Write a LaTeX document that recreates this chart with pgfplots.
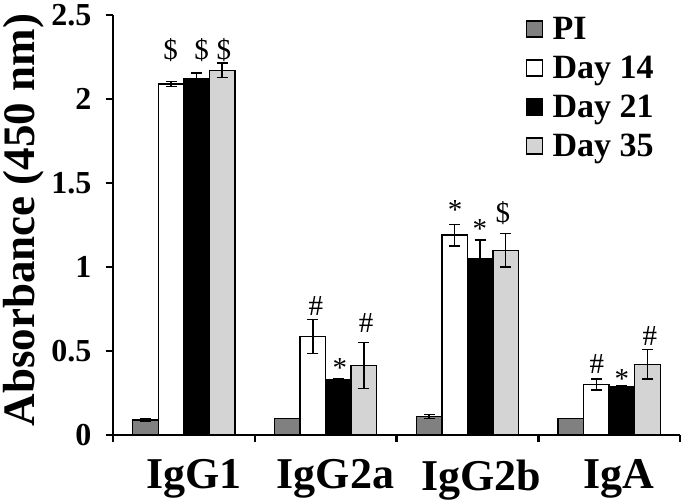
\documentclass[border=0pt]{standalone}
\usepackage{pgfplots}
\pgfplotsset{compat=1.18}
\usepackage{fontspec}
\setmainfont{Liberation Serif}
\definecolor{pigray}{HTML}{808080}
\definecolor{d35gray}{HTML}{D4D4D4}
\begin{document}
\begin{tikzpicture}
\useasboundingbox (-113pt,-65pt) rectangle (572pt,435pt);
\begin{axis}[
  scale only axis,
  width=567pt, height=420pt,
  xmin=-0.5, xmax=3.5, ymin=0, ymax=2.5,
  axis lines*=left,
  axis line style={line width=2.5pt},
  tick align=outside,
  major tick length=7pt,
  tick style={line width=2.5pt, black},
  ytick={0,0.5,1,1.5,2,2.5},
  xtick={-0.5,0.5,1.5,2.5,3.5},
  xticklabels={},
  extra x ticks={0.07,1.07,2.1,3.07},
  extra x tick labels={IgG1,IgG2a,IgG2b,IgA},
  extra x tick style={major tick length=0pt, tick style={draw=none}},
  /pgf/number format/assume math mode=true,
  yticklabel style={font=\fontsize{32}{32}\selectfont\bfseries, xshift=-11pt},
  xticklabel style={font=\fontsize{44}{44}\selectfont\bfseries, yshift=-21pt},
  ylabel={Absorbance (450 nm)},
  ylabel style={font=\fontsize{45}{45}\selectfont\bfseries, at={(axis description cs:-0.157,0.512)}, anchor=center},
  ybar, bar width=0.18,
  legend cell align=left,
  legend style={draw=none, fill=none, font=\fontsize{34}{34}\selectfont\bfseries,
    at={(axis description cs:0.728,1.0)}, anchor=north west, row sep=11pt, inner sep=0pt},
  legend image code/.code={\draw[#1] (0pt,-8pt) rectangle (16pt,8pt); \path[draw=none,fill=none] (0pt,0pt) (24pt,0pt);},
  error bars/y dir=both, error bars/y explicit,
  error bars/error bar style={line width=1.3pt, black},
  error bars/error mark options={rotate=90, mark size=5.5pt, line width=1.3pt, black},
]
\addlegendimage{fill=pigray, draw=black, line width=1.3pt}
\addlegendimage{fill=white, draw=black, line width=1.3pt}
\addlegendimage{fill=black, draw=black, line width=1.3pt}
\addlegendimage{fill=d35gray, draw=black, line width=1.3pt}
\legend{PI, Day 14, Day 21, Day 35}

% PI
\addplot[forget plot, bar shift=-0.27, fill=pigray, draw=black, line width=1.3pt]
  coordinates {(0,0.09) +- (0,0.01) (1,0.10) +- (0,0.0) (2,0.11) +- (0,0.012) (3,0.10) +- (0,0.0)};
% Day 14
\addplot[forget plot, bar shift=-0.09, fill=white, draw=black, line width=1.3pt]
  coordinates {(0,2.09) +- (0,0.015) (1,0.586) +- (0,0.10) (2,1.19) +- (0,0.065) (3,0.30) +- (0,0.033)};
% Day 21
\addplot[forget plot, bar shift=0.09, fill=black, draw=black, line width=1.3pt]
  coordinates {(0,2.12) +- (0,0.034) (1,0.33) +- (0,0.005) (2,1.05) +- (0,0.11) (3,0.29) +- (0,0.005)};
% Day 35
\addplot[forget plot, bar shift=0.27, fill=d35gray, draw=black, line width=1.3pt]
  coordinates {(0,2.17) +- (0,0.044) (1,0.415) +- (0,0.137) (2,1.10) +- (0,0.10) (3,0.42) +- (0,0.087)};

\begin{scope}[every node/.style={font=\fontsize{29}{29}\selectfont, inner sep=0pt, anchor=center}]
\node at (axis cs:-0.093,2.29) {\$};
\node at (axis cs:0.126,2.29) {\$};
\node at (axis cs:0.283,2.29) {\$};
\node at (axis cs:0.932,0.77) {\#};
\node at (axis cs:1.101,0.40) {*};
\node at (axis cs:1.285,0.665) {\#};
\node at (axis cs:1.913,1.34) {*};
\node at (axis cs:2.089,1.225) {*};
\node at (axis cs:2.251,1.32) {\$};
\node at (axis cs:2.914,0.42) {\#};
\node at (axis cs:3.09,0.335) {*};
\node at (axis cs:3.288,0.59) {\#};
\end{scope}
\end{axis}
\end{tikzpicture}
\end{document}
